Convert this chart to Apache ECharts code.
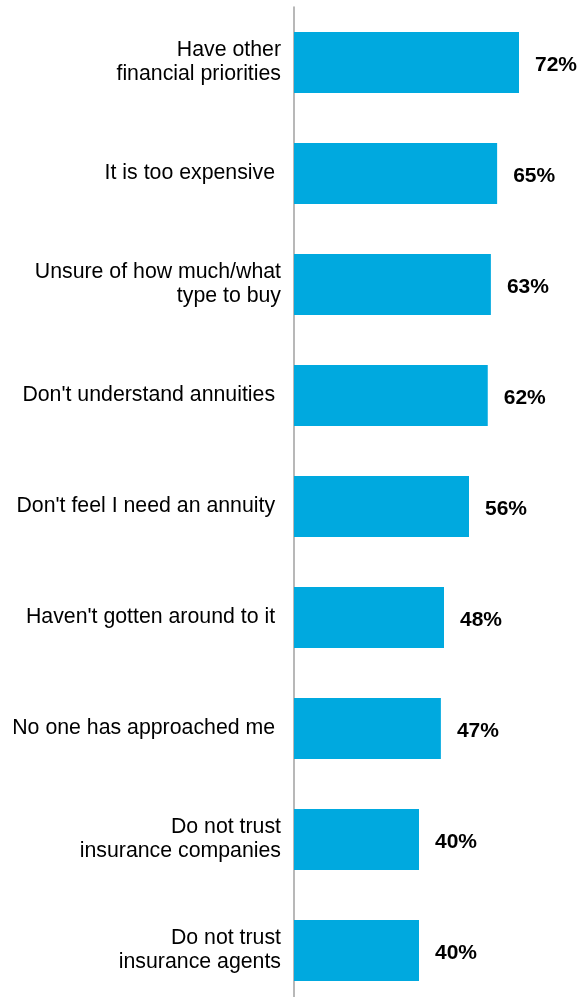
<!DOCTYPE html>
<html>
<head>
<meta charset="utf-8">
<script src="https://cdn.jsdelivr.net/npm/echarts@6/dist/echarts.min.js"></script>
<style>
  html, body { margin: 0; padding: 0; background: #fff; overflow: hidden; }
  /* the plot area runs a little past the bottom and right edges of the view */
  #chart { width: 610px; height: 1010px; }
</style>
</head>
<body>
<div id="chart"></div>
<script>
// Reasons for not buying an annuity (share of respondents, %)
const categories = [
  'Have other\nfinancial priorities',
  'It is too expensive ',
  'Unsure of how much/what\ntype to buy',
  "Don't understand annuities ",
  "Don't feel I need an annuity ",
  "Haven't gotten around to it ",
  'No one has approached me ',
  'Do not trust\ninsurance companies',
  'Do not trust\ninsurance agents'
];
const values = [72, 65, 63, 62, 56, 48, 47, 40, 40];

const chart = echarts.init(document.getElementById('chart'), null, { renderer: 'canvas' });

chart.setOption({
  animation: false,
  backgroundColor: '#ffffff',
  textStyle: { fontFamily: '"Liberation Sans", Arial, sans-serif' },
  grid: { left: 294, top: 7, width: 312.5, height: 999, containLabel: false },
  xAxis: {
    type: 'value',
    min: 0,
    max: 100,
    show: false
  },
  yAxis: {
    type: 'category',
    data: categories,
    inverse: true,
    offset: 1,
    axisLine: { show: true, lineStyle: { color: '#a0a0a0', width: 1.5 } },
    axisTick: { show: false },
    axisLabel: {
      margin: 12,
      fontSize: 21.3,
      lineHeight: 24,
      padding: [8, 0, 0, 0],
      color: '#000000',
      fontFamily: '"Liberation Sans", Arial, sans-serif'
    },
    splitLine: { show: false }
  },
  series: [{
    type: 'bar',
    data: values,
    barWidth: '55%',
    itemStyle: { color: '#00a9df' },
    label: {
      show: true,
      position: 'right',
      distance: 16,
      offset: [0, 2.5],
      formatter: '{c}%',
      fontSize: 21,
      fontWeight: 'bold',
      color: '#000000',
      fontFamily: '"Liberation Sans", Arial, sans-serif'
    }
  }]
});
</script>
</body>
</html>
